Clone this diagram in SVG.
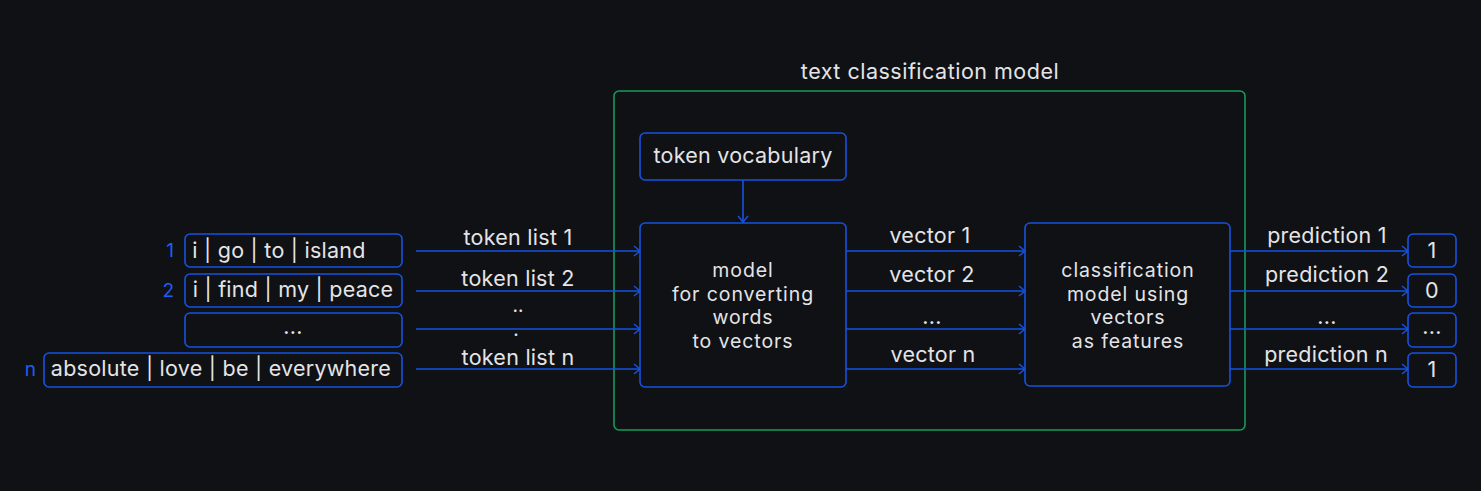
<svg xmlns="http://www.w3.org/2000/svg" width="1481" height="491" viewBox="0 0 1481 491">
<defs>
<marker id="arr" markerWidth="10" markerHeight="12" refX="8" refY="6" orient="auto" markerUnits="userSpaceOnUse">
<path d="M2,1 L8,6 L2,11" fill="none" stroke="#1652e0" stroke-width="1.5"/>
</marker>
<style>
.bx{fill:#0f1115;stroke:#1652e0;stroke-width:1.6}
.t{font-family:Inter,"Liberation Sans",sans-serif;font-size:21.5px;letter-spacing:0.25px;fill:#e4e4e6;text-anchor:middle}
.m{font-family:Inter,"Liberation Sans",sans-serif;font-size:19.5px;letter-spacing:0.9px;fill:#e4e4e6;text-anchor:middle}
.d{font-family:Inter,"Liberation Sans",sans-serif;font-size:19px;fill:#e4e4e6;text-anchor:middle}
.n{font-family:Inter,"Liberation Sans",sans-serif;font-size:19px;fill:#1f5ef5;text-anchor:end}
.c{stroke:#1652e0;stroke-width:1.6;fill:none;marker-end:url(#arr)}
</style>
</defs>
<rect width="1481" height="491" fill="#0f1115"/>
<g id="container">
<rect x="614" y="91" width="631" height="339" rx="5" fill="none" stroke="#179a5a" stroke-width="1.6"/>
<text class="t" x="930" y="79" style="letter-spacing:0.5px">text classification model</text>
</g>
<g id="connectors">
<path class="c" d="M416,251 H640"/>
<path class="c" d="M416,291 H640"/>
<path class="c" d="M416,329 H640"/>
<path class="c" d="M416,369 H640"/>
<path class="c" d="M743,180 V222"/>
<path class="c" d="M846,251 H1025"/>
<path class="c" d="M846,291 H1025"/>
<path class="c" d="M846,329 H1025"/>
<path class="c" d="M846,369 H1025"/>
<path class="c" d="M1230,251 H1408"/>
<path class="c" d="M1230,291 H1408"/>
<path class="c" d="M1230,329 H1408"/>
<path class="c" d="M1230,369 H1408"/>
<text class="t" x="518" y="245">token list 1</text>
<text class="t" x="518" y="286">token list 2</text>
<text class="d" x="518" y="312">..</text>
<text class="d" x="516" y="336">.</text>
<text class="t" x="518" y="365">token list n</text>
<text class="t" x="930" y="243">vector 1</text>
<text class="t" x="932" y="282">vector 2</text>
<text class="t" x="932" y="324">...</text>
<text class="t" x="933" y="362">vector n</text>
<text class="t" x="1327" y="243">prediction 1</text>
<text class="t" x="1327" y="282">prediction 2</text>
<text class="t" x="1327" y="324">...</text>
<text class="t" x="1326" y="362">prediction n</text>
</g>
<g id="in1"><rect class="bx" x="185" y="234" width="217" height="33" rx="5"/><text class="n" x="174" y="257">1</text><text class="t" x="279" y="258">i | go | to | island</text></g>
<g id="in2"><rect class="bx" x="185" y="274" width="217" height="33" rx="5"/><text class="n" x="174" y="297">2</text><text class="t" x="293" y="297">i | find | my | peace</text></g>
<g id="in3"><rect class="bx" x="185" y="313" width="217" height="34" rx="5"/><text class="t" x="293" y="334">...</text></g>
<g id="inn"><rect class="bx" x="44" y="353" width="358" height="34" rx="5"/><text class="n" x="36" y="376">n</text><text class="t" x="221" y="376">absolute | love | be | everywhere</text></g>
<g id="vocab"><rect class="bx" x="640" y="133" width="206" height="47" rx="5"/><text class="t" x="743" y="163">token vocabulary</text></g>
<g id="w2v"><rect class="bx" x="640" y="223" width="206" height="164" rx="5"/>
<text class="m" x="743" y="277">model<tspan x="743" y="300.5">for converting</tspan><tspan x="743" y="324">words</tspan><tspan x="743" y="347.5">to vectors</tspan></text></g>
<g id="clf"><rect class="bx" x="1025" y="223" width="205" height="163" rx="5"/>
<text class="m" x="1128" y="277">classification<tspan x="1128" y="300.5">model using</tspan><tspan x="1128" y="324">vectors</tspan><tspan x="1128" y="347.5">as features</tspan></text></g>
<g id="o1"><rect class="bx" x="1408" y="234" width="48" height="33" rx="5"/><text class="t" x="1432" y="258">1</text></g>
<g id="o2"><rect class="bx" x="1408" y="274" width="48" height="33" rx="5"/><text class="t" x="1432" y="298">0</text></g>
<g id="o3"><rect class="bx" x="1408" y="313" width="48" height="34" rx="5"/><text class="t" x="1432" y="334">...</text></g>
<g id="o4"><rect class="bx" x="1408" y="353" width="48" height="34" rx="5"/><text class="t" x="1432" y="377">1</text></g>
</svg>
